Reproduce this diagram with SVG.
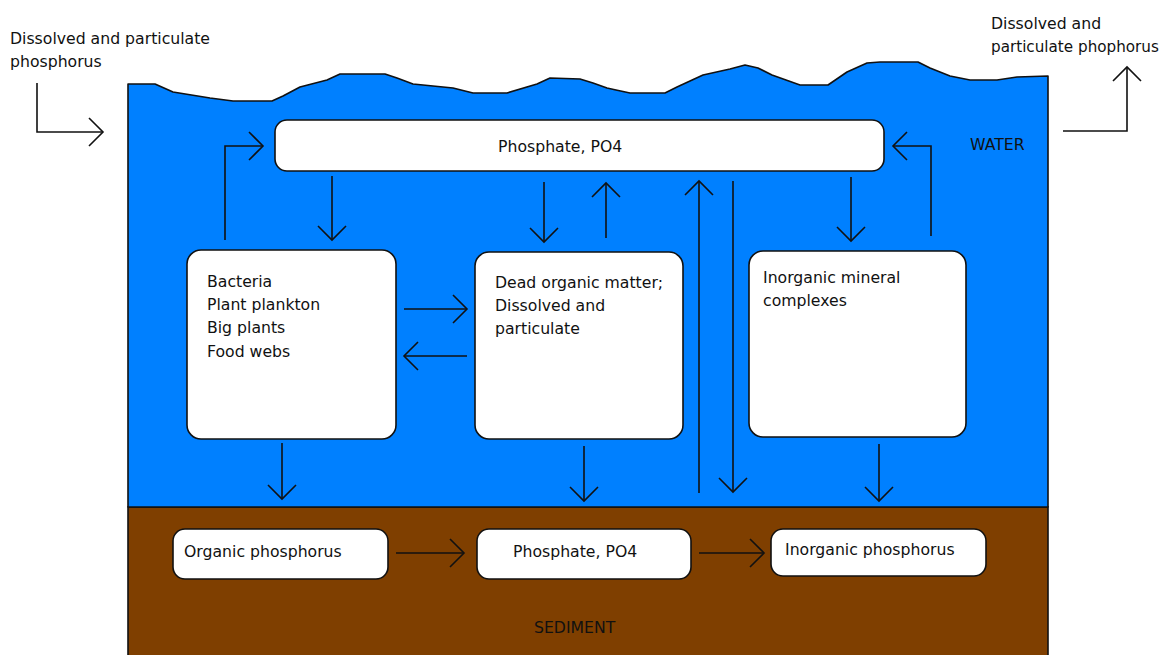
<svg xmlns="http://www.w3.org/2000/svg" width="1165" height="655" viewBox="0 0 1165 655">
<style>
text { font-family: "DejaVu Sans", Verdana, sans-serif; font-size: 15.7px; fill: #111; }
.box { fill: #fff; stroke: #111; stroke-width: 1.6; }
.arr { fill: none; stroke: #111; stroke-width: 1.6; marker-end: url(#head); }
</style>
<defs>
<marker id="head" markerUnits="userSpaceOnUse" viewBox="0 -16 18 32" refX="15" refY="0" markerWidth="18" markerHeight="32" orient="auto">
<path d="M1,-14 L15,0 L1,14" fill="none" stroke="#111" stroke-width="1.6"/>
</marker>
</defs>
<rect width="1165" height="655" fill="#fff"/>
<g id="sediment">
<rect x="128" y="507" width="920" height="160" fill="#7f3f00" stroke="#111" stroke-width="1.6"/>
<text x="534" y="633">SEDIMENT</text>
</g>
<g id="water">
<path d="M128,507 L128,84 L155,84 L173,92 L210,98 L233,101 L272,101 L283,96 L300,87 L327,80 L340,74 L385,74 L397,78 L413,84 L453,88 L473,93 L507,93 L537,84 L550,78 L580,79 L593,83 L607,88 L616,90 L630,93 L665,93 L677,87 L703,75 L730,69 L745,65 L758,68 L772,75 L800,85 L828,85 L847,72 L867,63 L880,62 L918,62 L930,68 L950,76 L970,80 L997,80 L1017,77 L1048,76 L1048,507 Z" fill="#0080ff" stroke="#111" stroke-width="1.6" stroke-linejoin="round"/>
<text x="970" y="150">WATER</text>
</g>
<g id="input-label">
<text x="10" y="44">Dissolved and particulate</text>
<text x="10" y="67">phosphorus</text>
</g>
<g id="output-label">
<text x="991" y="29">Dissolved and</text>
<text x="991" y="52" style="font-size:15.2px">particulate phophorus</text>
</g>
<g id="phosphate-water">
<rect class="box" x="275" y="120" width="609" height="51" rx="12"/>
<text x="498" y="152">Phosphate, PO4</text>
</g>
<g id="bacteria">
<rect class="box" x="187" y="250" width="209" height="189" rx="14"/>
<text x="207" y="287">Bacteria</text>
<text x="207" y="310">Plant plankton</text>
<text x="207" y="333">Big plants</text>
<text x="207" y="357">Food webs</text>
</g>
<g id="dead-organic">
<rect class="box" x="475" y="252" width="208" height="187" rx="14"/>
<text x="495" y="288">Dead organic matter;</text>
<text x="495" y="311">Dissolved and</text>
<text x="495" y="334">particulate</text>
</g>
<g id="inorganic-mineral">
<rect class="box" x="749" y="251" width="217" height="186" rx="14"/>
<text x="763" y="283">Inorganic mineral</text>
<text x="763" y="306">complexes</text>
</g>
<g id="organic-phosphorus">
<rect class="box" x="173" y="529" width="215" height="50" rx="12"/>
<text x="184" y="557">Organic phosphorus</text>
</g>
<g id="phosphate-sediment">
<rect class="box" x="477" y="529" width="214" height="50" rx="12"/>
<text x="513" y="557">Phosphate, PO4</text>
</g>
<g id="inorganic-phosphorus">
<rect class="box" x="771" y="529" width="215" height="47" rx="12"/>
<text x="785" y="555">Inorganic phosphorus</text>
</g>
<g id="connectors">
<path class="arr" d="M37,83 L37,132 L103,132"/>
<path class="arr" d="M1063,131 L1127,131 L1127,67"/>
<path class="arr" d="M225,240 L225,146 L263,146"/>
<path class="arr" d="M332,176 L332,240"/>
<path class="arr" d="M544,182 L544,242"/>
<path class="arr" d="M606,238 L606,183"/>
<path class="arr" d="M699,493 L699,181"/>
<path class="arr" d="M733,181 L733,492"/>
<path class="arr" d="M851,177 L851,241"/>
<path class="arr" d="M931,236 L931,146 L893,146"/>
<path class="arr" d="M404,309 L467,309"/>
<path class="arr" d="M467,356 L404,356"/>
<path class="arr" d="M282,443 L282,499"/>
<path class="arr" d="M584,446 L584,501"/>
<path class="arr" d="M879,444 L879,501"/>
<path class="arr" d="M396,553 L464,553"/>
<path class="arr" d="M699,553 L764,553"/>
</g>
</svg>
